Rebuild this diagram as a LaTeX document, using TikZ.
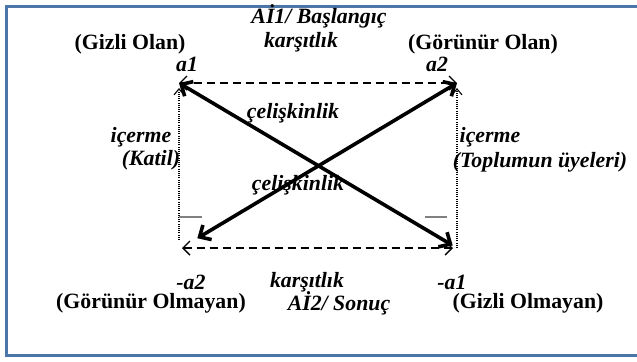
\documentclass[tikz,border=0pt]{standalone}
\usepackage{fontspec}
\setmainfont{Liberation Serif}
\usepackage{xcolor}
\usepackage{tikz}
\usetikzlibrary{arrows.meta}
\definecolor{framecol}{RGB}{74,118,168}

\begin{document}
\begin{tikzpicture}[x=0.5pt,y=-0.5pt,
  lbl/.style={inner sep=0pt, font=\fontsize{10.9}{13}\selectfont\bfseries},
  ilbl/.style={inner sep=0pt, font=\fontsize{10.9}{13}\selectfont\bfseries\itshape},
  opp/.style={line width=0.7pt, dash pattern=on 4pt off 2.5pt, {Straight Barb[length=3.5pt,width=7pt]}-{Straight Barb[length=3.5pt,width=7pt]}},
  contra/.style={line width=1.8pt, {Straight Barb[length=4.5pt,width=8.5pt]}-{Straight Barb[length=4.5pt,width=8.5pt]}},
  incl/.style={line width=0.55pt, dash pattern=on 0.5pt off 0.6pt, -{Straight Barb[length=3pt,width=5pt]}, shorten >=2.5pt},
  tick/.style={gray, line width=0.8pt}]
\useasboundingbox (0,0) rectangle (637,361);
\draw[framecol, line width=1.5pt] (640,6.5) -- (6.5,6.5) -- (6.5,355.5) -- (640,355.5);
\coordinate (a1) at (179,83);
\coordinate (a2) at (457,83);
\coordinate (b2) at (181,248);
\coordinate (b1) at (457,248);
\coordinate (k1) at (179,240);
\draw[opp] (a1) -- (a2);
\draw[opp, shorten <=0.5pt, shorten >=2pt] (b2) -- (b1);
\draw[incl] (k1) -- (a1);
\draw[incl] (b1) -- (a2);
\draw[tick] (179,217) -- +(23,0);
\draw[tick] (425,217) -- +(22,0);
\draw[contra, shorten >=2.5pt] (a1) -- (b1);
\draw[contra, shorten >=9.5pt] (a2) -- (b2);
\node[ilbl] (ai1) at (319,16) {Aİ1/ Başlangıç};
\node[ilbl] (kt1) at (301,42) {karşıtlık};
\node[lbl] (gizli) at (130,44) {(Gizli Olan)};
\node[lbl] (gorunur) at (483,44) {(Görünür Olan)};
\node[ilbl] (la1) at (187,64) {a1};
\node[ilbl] (la2) at (437,64) {a2};
\node[ilbl] (cel1) at (293,113) {çelişkinlik};
\node[ilbl] (cel2) at (298,185) {çelişkinlik};
\node[ilbl] (ic1) at (141,137) {içerme};
\node[ilbl] (katil) at (151,160) {(Katil)};
\node[ilbl] (ic2) at (490,137) {içerme};
\node[ilbl] (toplum) at (540,162) {(Toplumun üyeleri)};
\node[ilbl] (lna2) at (191,282) {-a2};
\node[ilbl] (kt2) at (307,282) {karşıtlık};
\node[ilbl] (lna1) at (452,282) {-a1};
\node[lbl] (gorunmez) at (151,303) {(Görünür Olmayan)};
\node[ilbl] (ai2) at (339,303) {Aİ2/ Sonuç};
\node[lbl] (gizsiz) at (528,303) {(Gizli Olmayan)};
\end{tikzpicture}
\end{document}
